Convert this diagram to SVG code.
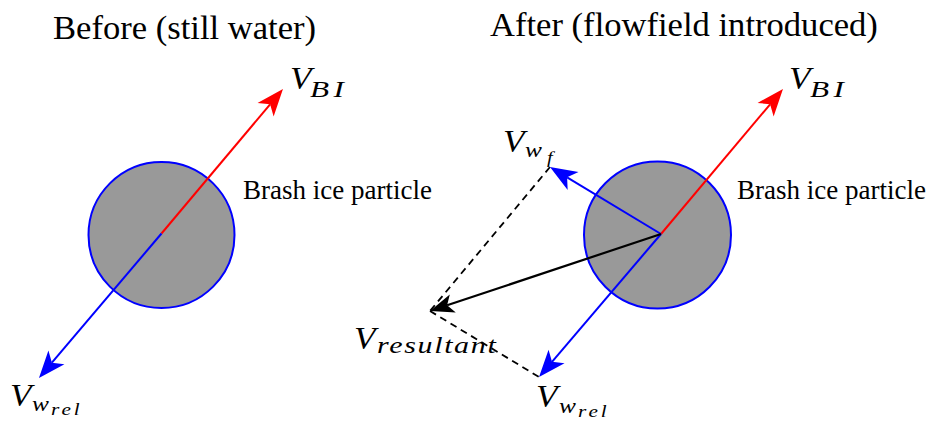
<svg xmlns="http://www.w3.org/2000/svg" width="929" height="424" viewBox="0 0 929 424">
<style>
.title{font-family:"Liberation Serif","Times New Roman",serif;font-size:34.6px;fill:#000}
.lbl{font-family:"Liberation Serif","Times New Roman",serif;font-size:27px;fill:#000}
.m{font-family:"Liberation Serif","Times New Roman",serif;font-style:italic;fill:#000}
.particle{fill:#999999;stroke:#0000ff;stroke-width:2}
.red{stroke:#ff0000;stroke-width:2;fill:none}
.blue{stroke:#0000ff;stroke-width:2;fill:none}
.blk{stroke:#000;stroke-width:2.2;fill:none}
.dash{stroke:#000;stroke-width:1.8;stroke-dasharray:7,5;fill:none}
</style>
<defs>
<marker id="ahR" markerUnits="userSpaceOnUse" markerWidth="30" markerHeight="30" refX="7" refY="0" orient="auto" overflow="visible"><path d="M27,0 L0,-10.5 L7,0 L0,10.5 Z" fill="#ff0000"/></marker>
<marker id="ahB" markerUnits="userSpaceOnUse" markerWidth="30" markerHeight="30" refX="7" refY="0" orient="auto" overflow="visible"><path d="M27,0 L0,-10.5 L7,0 L0,10.5 Z" fill="#0000ff"/></marker>
<marker id="ahK" markerUnits="userSpaceOnUse" markerWidth="30" markerHeight="30" refX="6" refY="0" orient="auto" overflow="visible"><path d="M24,0 L0,-9.5 L6,0 L0,9.5 Z" fill="#000"/></marker>
</defs>

<text class="title" x="53" y="39">Before (still water)</text>
<text class="title" x="490" y="36">After (flowfield introduced)</text>

<g id="particle-before">
<circle class="particle" cx="161.5" cy="235" r="73"/>
<text class="lbl" x="243" y="199">Brash ice particle</text>
</g>
<g id="particle-after">
<circle class="particle" cx="657.5" cy="235" r="73.5"/>
<text class="lbl" x="737" y="199">Brash ice particle</text>
</g>

<g id="connectors">
<line class="red" x1="161.5" y1="233.5" x2="270.1" y2="104.3" marker-end="url(#ahR)"/>
<line class="blue" x1="161.5" y1="233.5" x2="51.9" y2="362.7" marker-end="url(#ahB)"/>
<line class="dash" x1="550" y1="167" x2="430" y2="311"/>
<line class="dash" x1="430" y1="311" x2="539" y2="377"/>
<line class="red" x1="661" y1="234" x2="770.1" y2="104.3" marker-end="url(#ahR)"/>
<line class="blue" x1="661" y1="234" x2="552" y2="361.8" marker-end="url(#ahB)"/>
<line class="blue" x1="661" y1="234" x2="567.1" y2="177.3" marker-end="url(#ahB)"/>
<line class="blk" x1="661" y1="234" x2="447.1" y2="305.3" marker-end="url(#ahK)"/>
</g>

<g id="label-vbi-before">
<text class="m" transform="translate(290,88.5) scale(1.1,1)" font-size="32">V</text>
<text class="m" transform="translate(310,97) scale(1.3,1)" font-size="24" textLength="26" lengthAdjust="spacing">BI</text>
</g>
<g id="label-vwrel-before">
<text class="m" transform="translate(10,406) scale(1.1,1)" font-size="32">V</text>
<text class="m" transform="translate(32,410.5) scale(1.15,1)" font-size="22">w</text>
<text class="m" transform="translate(51,415) scale(1.25,1)" font-size="17" textLength="23" lengthAdjust="spacing">rel</text>
</g>
<g id="label-vbi-after">
<text class="m" transform="translate(789,89) scale(1.1,1)" font-size="32">V</text>
<text class="m" transform="translate(810,97) scale(1.3,1)" font-size="24" textLength="26" lengthAdjust="spacing">BI</text>
</g>
<g id="label-vwf">
<text class="m" transform="translate(503,152) scale(1.1,1)" font-size="32">V</text>
<text class="m" transform="translate(525,157) scale(1.15,1)" font-size="22">w</text>
<text class="m" transform="translate(547,163) scale(1.2,1)" font-size="17">f</text>
</g>
<g id="label-vresultant">
<text class="m" transform="translate(354,349) scale(1.1,1)" font-size="32">V</text>
<text class="m" transform="translate(377,353) scale(1.25,1)" font-size="24" textLength="95" lengthAdjust="spacing">resultant</text>
</g>
<g id="label-vwrel-after">
<text class="m" transform="translate(536,407) scale(1.1,1)" font-size="32">V</text>
<text class="m" transform="translate(559,412.5) scale(1.15,1)" font-size="22">w</text>
<text class="m" transform="translate(578,417) scale(1.25,1)" font-size="17" textLength="23" lengthAdjust="spacing">rel</text>
</g>
</svg>
